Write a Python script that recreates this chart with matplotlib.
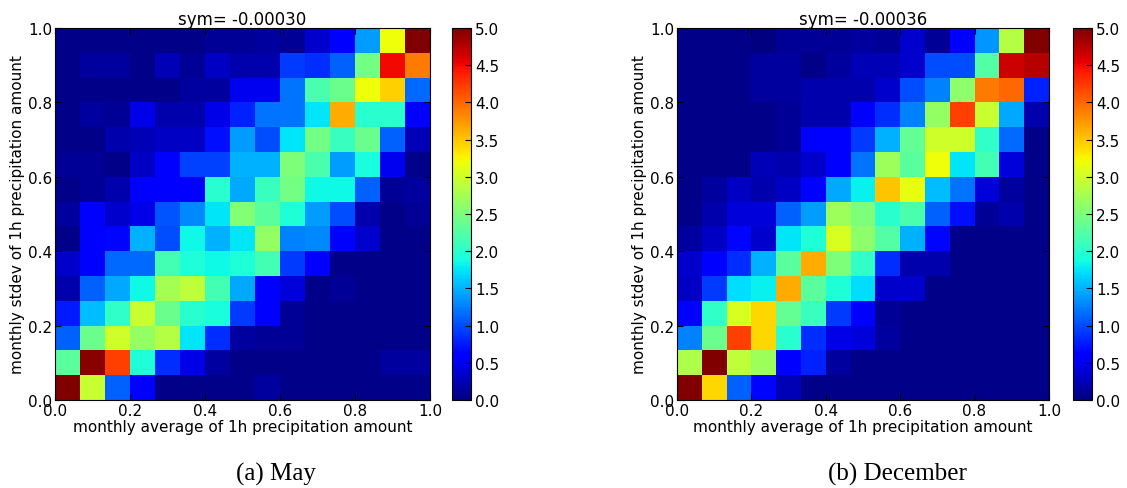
import numpy as np
import matplotlib
matplotlib.use("Agg")
import matplotlib.pyplot as plt
from matplotlib.ticker import FormatStrFormatter

# 15x15 2D histograms, rows listed from the top (stdev ~1.0) down to stdev ~0.0
may_rows = [
    [0.05, 0.05, 0.05, 0.05, 0.05, 0.05, 0.10, 0.10, 0.15, 0.10, 0.35, 0.60, 1.40, 3.20, 5.00],
    [0.05, 0.15, 0.15, 0.05, 0.25, 0.10, 0.30, 0.20, 0.20, 0.90, 0.85, 1.10, 2.45, 4.50, 3.90],
    [0.05, 0.05, 0.05, 0.05, 0.05, 0.15, 0.15, 0.50, 0.50, 1.20, 2.20, 2.40, 3.20, 3.45, 1.15],
    [0.05, 0.15, 0.10, 0.45, 0.20, 0.20, 0.45, 0.80, 1.20, 1.20, 1.75, 3.65, 2.00, 2.00, 0.60],
    [0.05, 0.05, 0.20, 0.25, 0.30, 0.30, 0.70, 1.40, 1.00, 1.75, 2.45, 2.10, 2.40, 1.10, 0.25],
    [0.10, 0.10, 0.05, 0.30, 0.60, 0.95, 0.95, 1.50, 1.50, 2.50, 2.20, 1.40, 1.90, 0.50, 0.05],
    [0.05, 0.10, 0.20, 0.60, 0.60, 0.55, 2.00, 1.45, 2.10, 2.45, 1.85, 1.85, 1.10, 0.10, 0.15],
    [0.15, 0.60, 0.35, 0.45, 1.05, 1.30, 1.75, 2.55, 2.30, 1.95, 1.40, 1.00, 0.20, 0.05, 0.10],
    [0.05, 0.60, 0.65, 1.50, 1.00, 1.85, 1.50, 1.75, 2.65, 1.25, 1.30, 0.60, 0.35, 0.05, 0.05],
    [0.35, 0.55, 1.15, 1.15, 2.15, 1.95, 1.85, 1.95, 2.15, 0.90, 0.60, 0.05, 0.05, 0.05, 0.05],
    [0.20, 1.10, 1.45, 1.85, 2.75, 2.90, 2.15, 1.45, 0.60, 0.40, 0.05, 0.10, 0.05, 0.05, 0.05],
    [0.75, 1.55, 2.05, 2.95, 2.40, 2.00, 1.90, 0.90, 0.55, 0.10, 0.05, 0.05, 0.05, 0.05, 0.05],
    [1.10, 2.40, 3.00, 2.65, 2.85, 1.75, 0.85, 0.15, 0.10, 0.10, 0.05, 0.05, 0.05, 0.05, 0.05],
    [2.30, 4.95, 4.20, 1.95, 0.85, 0.45, 0.15, 0.05, 0.05, 0.05, 0.05, 0.05, 0.05, 0.15, 0.15],
    [5.00, 2.95, 1.10, 0.60, 0.05, 0.05, 0.05, 0.05, 0.15, 0.05, 0.05, 0.05, 0.05, 0.05, 0.05],
]

dec_rows = [
    [0.05, 0.05, 0.05, 0.00, 0.10, 0.10, 0.10, 0.15, 0.10, 0.35, 0.10, 0.60, 1.35, 2.85, 5.00],
    [0.05, 0.05, 0.05, 0.15, 0.15, 0.05, 0.15, 0.25, 0.25, 0.35, 1.00, 1.00, 2.25, 4.65, 4.75],
    [0.05, 0.05, 0.05, 0.15, 0.15, 0.20, 0.20, 0.20, 0.35, 1.00, 1.25, 2.60, 3.90, 4.00, 0.80],
    [0.05, 0.05, 0.05, 0.05, 0.10, 0.20, 0.20, 0.60, 0.85, 1.25, 2.65, 4.20, 2.95, 1.45, 0.20],
    [0.05, 0.05, 0.05, 0.05, 0.10, 0.55, 0.55, 0.90, 1.50, 2.35, 3.00, 3.00, 2.05, 1.15, 0.05],
    [0.05, 0.05, 0.05, 0.25, 0.20, 0.35, 0.55, 1.20, 2.70, 2.30, 3.20, 1.75, 2.15, 0.40, 0.05],
    [0.05, 0.15, 0.30, 0.20, 0.30, 0.60, 1.45, 1.80, 3.50, 3.15, 1.55, 1.20, 0.40, 0.15, 0.05],
    [0.05, 0.20, 0.40, 0.40, 1.10, 1.40, 2.70, 2.50, 2.00, 2.20, 1.10, 0.70, 0.10, 0.20, 0.05],
    [0.15, 0.30, 0.65, 0.35, 1.75, 1.95, 3.05, 2.60, 2.25, 1.50, 0.65, 0.05, 0.05, 0.05, 0.05],
    [0.35, 0.55, 0.85, 1.50, 2.30, 3.65, 2.50, 2.05, 0.85, 0.20, 0.20, 0.05, 0.05, 0.05, 0.05],
    [0.30, 0.90, 1.70, 1.80, 3.65, 2.30, 1.95, 1.70, 0.35, 0.35, 0.05, 0.05, 0.05, 0.05, 0.05],
    [0.55, 2.05, 3.05, 3.40, 2.35, 2.10, 0.90, 0.60, 0.10, 0.05, 0.05, 0.05, 0.05, 0.05, 0.05],
    [1.25, 2.40, 4.20, 3.40, 2.00, 0.85, 0.45, 0.40, 0.15, 0.05, 0.05, 0.05, 0.05, 0.05, 0.05],
    [2.80, 5.00, 2.90, 2.70, 0.60, 0.80, 0.15, 0.05, 0.05, 0.05, 0.05, 0.05, 0.05, 0.05, 0.05],
    [5.00, 3.40, 1.10, 0.65, 0.25, 0.05, 0.05, 0.05, 0.05, 0.05, 0.05, 0.05, 0.05, 0.05, 0.05],
]

titles = ["sym= -0.00030", "sym= -0.00036"]
captions = ["(a) May", "(b) December"]
xlabel = "monthly average of 1h precipitation amount"
ylabel = "monthly stdev of 1h precipitation amount"

edges = np.linspace(0.0, 1.0, 16)

fig = plt.figure(figsize=(11.27, 4.89), dpi=100)

ax_boxes = [[0.0488, 0.180, 0.3327, 0.7607], [0.6007, 0.180, 0.3300, 0.7607]]
cb_boxes = [[0.4010, 0.180, 0.0169, 0.7607], [0.9521, 0.180, 0.0169, 0.7607]]
caption_x = [0.245, 0.796]

for rows, title, caption, abox, cbox, cx in zip([may_rows, dec_rows], titles, captions,
                                               ax_boxes, cb_boxes, caption_x):
    ax = fig.add_axes(abox)
    z = np.flipud(np.array(rows))
    mesh = ax.pcolormesh(edges, edges, z, cmap="jet", vmin=0.0, vmax=5.0)
    ax.set_xlim(0, 1)
    ax.set_ylim(0, 1)
    ax.set_xticks(np.arange(0, 1.01, 0.2))
    ax.set_yticks(np.arange(0, 1.01, 0.2))
    ax.xaxis.set_major_formatter(FormatStrFormatter("%.1f"))
    ax.yaxis.set_major_formatter(FormatStrFormatter("%.1f"))
    ax.tick_params(direction="in", top=True, right=True, labelsize=11, length=4, pad=2)
    ax.set_title(title, fontsize=12, pad=3)
    ax.set_xlabel(xlabel, fontsize=11, labelpad=1)
    ax.set_ylabel(ylabel, fontsize=11, labelpad=2)

    # sub-figure caption below each panel
    fig.text(cx, 0.030, caption, ha="center", va="center",
             fontsize=18, family="Liberation Serif")

    cax = fig.add_axes(cbox)
    cb = fig.colorbar(mesh, cax=cax, ticks=np.arange(0, 5.01, 0.5))
    cb.ax.yaxis.set_major_formatter(FormatStrFormatter("%.1f"))
    cb.ax.tick_params(direction="in", labelsize=11, length=4, pad=3)

fig.savefig("out.png", dpi=100)
